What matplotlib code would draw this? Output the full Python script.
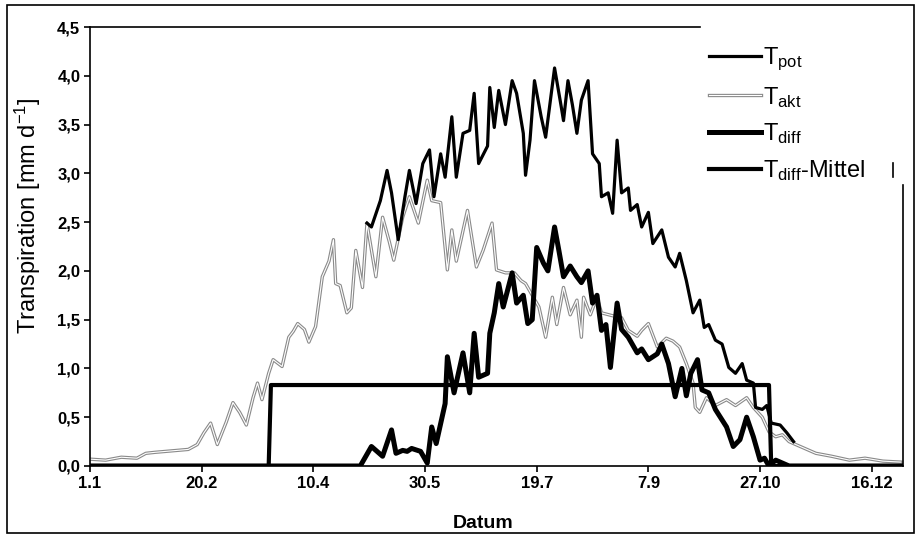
import matplotlib
matplotlib.use("Agg")
import matplotlib.pyplot as plt
import matplotlib.patheffects as pe
from matplotlib.lines import Line2D
from matplotlib.patches import Rectangle
import numpy as np

plt.rcParams['font.family'] = ['Liberation Sans', 'DejaVu Sans']
plt.rcParams['mathtext.default'] = 'regular'

# Tag im Jahr (Schaltjahr) und Werte in mm/d
tage_akt = [1, 8, 15, 22, 26, 30, 35, 40, 45, 49, 52, 55, 58, 62, 65, 68, 71, 74, 76, 78,
            81, 83, 87, 90, 92, 94, 97, 99, 102, 105, 108, 110, 111, 113, 116, 118, 120, 123,
            125, 129, 132, 135, 137, 141, 144, 148, 152, 154, 158, 161, 163, 165, 170, 174,
            177, 181, 183, 187, 191, 194, 196, 202, 205, 208, 210, 213, 216, 219, 221, 222,
            225, 228, 230, 235, 239, 242, 246, 248, 251, 255, 259, 262, 265, 268, 271, 272,
            274, 277, 281, 286, 290, 295, 298, 302, 305, 308, 311, 314, 319, 323, 326, 333,
            341, 348, 356, 364]
t_akt = [0.07, 0.06, 0.09, 0.08, 0.13, 0.14, 0.15, 0.16, 0.17, 0.22, 0.34, 0.44, 0.22, 0.45,
         0.65, 0.55, 0.42, 0.70, 0.85, 0.68, 0.95, 1.09, 1.02, 1.32, 1.38, 1.46, 1.40, 1.27,
         1.43, 1.94, 2.10, 2.32, 1.87, 1.85, 1.57, 1.62, 2.21, 1.83, 2.49, 1.94, 2.55, 2.30,
         2.11, 2.55, 2.76, 2.49, 2.93, 2.72, 2.70, 2.01, 2.42, 2.10, 2.62, 2.04, 2.21, 2.49,
         2.01, 1.98, 1.98, 1.90, 1.87, 1.63, 1.32, 1.73, 1.45, 1.83, 1.55, 1.70, 1.32, 1.73,
         1.55, 1.73, 1.57, 1.54, 1.52, 1.39, 1.33, 1.39, 1.46, 1.22, 1.31, 1.28, 1.22, 1.05,
         0.85, 0.60, 0.55, 0.70, 0.62, 0.68, 0.62, 0.70, 0.60, 0.50, 0.35, 0.30, 0.32, 0.25,
         0.20, 0.16, 0.13, 0.10, 0.06, 0.08, 0.05, 0.04]

tage_pot = [125, 127, 131, 134, 136, 139, 142, 144, 147, 150, 153, 155, 158, 160, 163, 165,
            168, 171, 173, 175, 179, 180, 182, 184, 187, 190, 192, 195, 196, 198, 200, 203,
            205, 209, 212, 213, 215, 217, 219, 221, 224, 226, 229, 230, 233, 235, 237, 239,
            242, 243, 246, 248, 251, 253, 257, 260, 263, 265, 268, 271, 274, 276, 278, 281,
            284, 287, 290, 293, 295, 298, 299, 302, 304, 306, 310, 313, 316]
t_pot = [2.49, 2.45, 2.72, 3.03, 2.80, 2.32, 2.76, 3.03, 2.69, 3.10, 3.24, 2.76, 3.20, 2.96,
         3.58, 2.96, 3.41, 3.44, 3.82, 3.10, 3.28, 3.88, 3.47, 3.85, 3.50, 3.95, 3.82, 3.41,
         2.98, 3.34, 3.95, 3.58, 3.37, 4.08, 3.68, 3.54, 3.95, 3.70, 3.41, 3.75, 3.95, 3.20,
         3.10, 2.76, 2.80, 2.59, 3.34, 2.80, 2.85, 2.62, 2.68, 2.45, 2.60, 2.28, 2.42, 2.14,
         2.04, 2.18, 1.90, 1.57, 1.70, 1.42, 1.45, 1.29, 1.25, 1.01, 0.95, 1.05, 0.88, 0.85,
         0.60, 0.58, 0.62, 0.44, 0.42, 0.34, 0.25]

tage_diff = [1, 122, 124, 127, 132, 136, 138, 141, 143, 145, 149, 152, 154, 156, 160, 161,
             164, 168, 171, 173, 175, 179, 180, 182, 184, 186, 190, 192, 195, 197, 199, 201,
             204, 206, 209, 211, 213, 216, 219, 221, 224, 226, 228, 230, 232, 234, 237, 239,
             242, 246, 248, 251, 255, 257, 260, 263, 266, 268, 270, 273, 275, 278, 281, 286,
             289, 292, 295, 298, 301, 303, 305, 308, 310, 314, 365]
t_diff = [0.0, 0.0, 0.08, 0.20, 0.10, 0.37, 0.13, 0.16, 0.15, 0.18, 0.15, 0.03, 0.40, 0.23,
          0.64, 1.12, 0.75, 1.16, 0.75, 1.36, 0.91, 0.95, 1.36, 1.57, 1.87, 1.63, 1.98, 1.67,
          1.75, 1.46, 1.50, 2.24, 2.08, 2.00, 2.45, 2.20, 1.94, 2.05, 1.94, 1.88, 2.00, 1.67,
          1.75, 1.39, 1.45, 1.01, 1.67, 1.40, 1.32, 1.16, 1.20, 1.09, 1.15, 1.25, 1.05, 0.71,
          1.00, 0.72, 0.95, 1.09, 0.78, 0.75, 0.58, 0.40, 0.20, 0.27, 0.50, 0.30, 0.06, 0.08,
          0.0, 0.06, 0.04, 0.0, 0.0]

tage_mittel = [1, 81, 82, 305, 306, 365]
t_mittel = [0.0, 0.0, 0.83, 0.83, 0.0, 0.0]

x_ticks = [1, 51, 101, 151, 201, 251, 301, 351]
x_labels = ['1.1', '20.2', '10.4', '30.5', '19.7', '7.9', '27.10', '16.12']
y_ticks = np.arange(0, 4.51, 0.5)

W, H = 920, 536
fig = plt.figure(figsize=(W / 100, H / 100), dpi=100)
ax = fig.add_axes([90 / W, 1 - 466 / H, 813 / W, 439 / H])

ax.plot(tage_akt, t_akt, color='white', lw=0.8, zorder=2,
        path_effects=[pe.Stroke(linewidth=2.4, foreground='#8a8a8a'), pe.Normal()],
        label='T$_{akt}$')
ax.plot(tage_pot, t_pot, color='black', lw=2.3, zorder=3, label='T$_{pot}$')
ax.plot(tage_diff, t_diff, color='black', lw=3.6, zorder=4, label='T$_{diff}$')
ax.plot(tage_mittel, t_mittel, color='black', lw=3.0, zorder=4, label='T$_{diff}$-Mittel')

ax.set_xlim(1, 365)
ax.set_ylim(0, 4.5)
ax.set_xticks(x_ticks)
ax.set_xticklabels(x_labels)
ax.set_yticks(y_ticks)
ax.set_yticklabels([f'{v:.1f}'.replace('.', ',') for v in y_ticks])
for lab in ax.get_xticklabels() + ax.get_yticklabels():
    lab.set_fontweight('bold')
    lab.set_fontsize(12)
ax.tick_params(direction='out', length=4, width=1.2, pad=3)

for s in ax.spines.values():
    s.set_linewidth(1.2)
ax.spines['top'].set_bounds(1, 274)
ax.spines['right'].set_bounds(0, 2.88)

ax.set_ylabel('Transpiration [mm d$^{-1}$]', fontsize=17, va='center')
ax.yaxis.set_label_coords(-0.076, 0.57)
ax.set_xlabel('Datum', fontsize=14, fontweight='bold', va='center')
ax.xaxis.set_label_coords(0.483, -0.13)

h, l = ax.get_legend_handles_labels()
order = [1, 0, 2, 3]
leg = ax.legend([h[i] for i in order], [l[i] for i in order], loc='upper left',
                bbox_to_anchor=(700 / W, 1 - 36 / H), bbox_transform=fig.transFigure,
                frameon=False, fontsize=17, handlelength=2.2, handletextpad=0.05,
                labelspacing=0.5, borderaxespad=0)

# Rahmen um die gesamte Abbildung
fig.add_artist(Rectangle((7 / W, 1 - 533 / H), 907 / W, 528 / H, transform=fig.transFigure,
                         fill=False, edgecolor='black', lw=1.2))
fig.add_artist(Line2D([893 / W, 893 / W], [1 - 163 / H, 1 - 177 / H],
                      transform=fig.transFigure, color='black', lw=1.2))

fig.savefig('out.png', dpi=100)
